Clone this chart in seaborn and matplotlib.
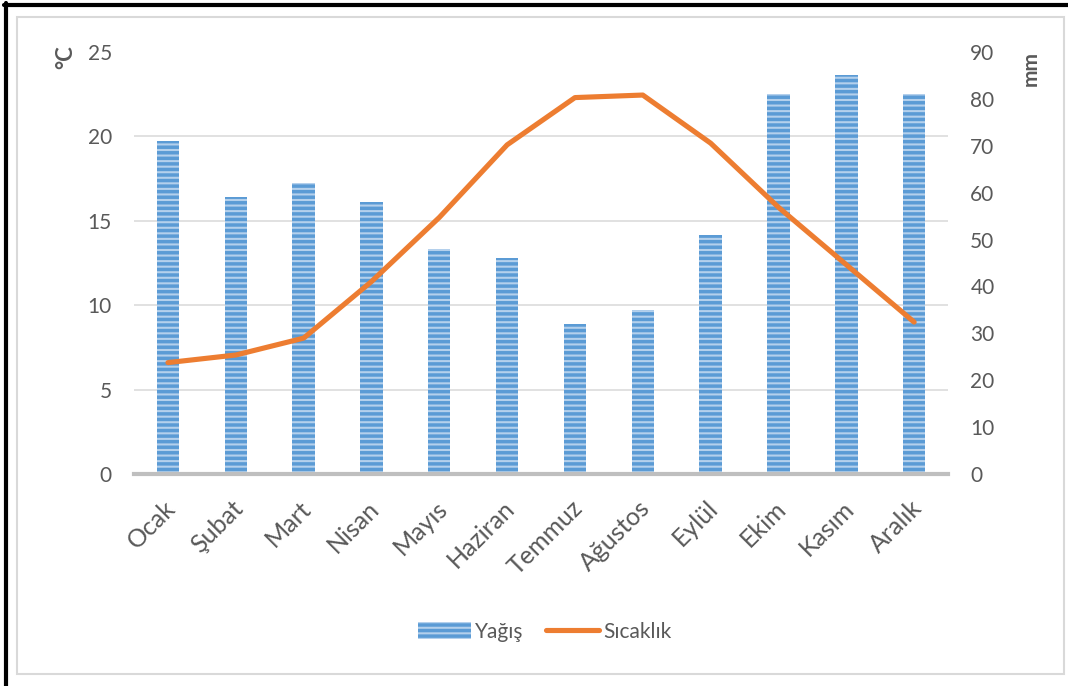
import numpy as np
import pandas as pd
import seaborn as sns
import matplotlib.pyplot as plt
import matplotlib.transforms as mtransforms
from matplotlib.ticker import MultipleLocator
from matplotlib.lines import Line2D
from matplotlib.patches import Rectangle

# Monthly climate values
months = ["Ocak", "Şubat", "Mart", "Nisan", "Mayıs", "Haziran",
          "Temmuz", "Ağustos", "Eylül", "Ekim", "Kasım", "Aralık"]
precip_mm = [71, 59, 62, 58, 48, 46, 32, 35, 51, 81, 85, 81]
temp_c = [6.6, 7.05, 8.05, 11.4, 15.2, 19.5, 22.3, 22.45, 19.6, 15.8, 12.4, 9.0]
temp_ticks = [0, 5, 10, 15, 20, 25]
precip_ticks = [0, 10, 20, 30, 40, 50, 60, 70, 80, 90]

TEXT = "#595959"
BAR_LIGHT = "#B4D0EC"
BAR_DARK = "#5B9BD5"
LINE = "#ED7D31"

sns.set_theme(style="white")
plt.rcParams["font.family"] = ["Lato", "DejaVu Sans"]
plt.rcParams["hatch.linewidth"] = 2.5

df = pd.DataFrame({"Ay": months, "Yağış": precip_mm, "Sıcaklık": temp_c})

fig = plt.figure(figsize=(10.68, 6.86), dpi=100)
ax = fig.add_axes([0.1255, 0.309, 0.7622, 0.6152])
ax2 = ax.twinx()
ax.set_zorder(ax2.get_zorder() + 1)
ax.patch.set_visible(False)

# precipitation bars on the right (mm) axis
sns.barplot(data=df, x="Ay", y="Yağış", ax=ax2, width=0.33, color=BAR_LIGHT,
            saturation=1, errorbar=None, edgecolor=BAR_DARK, linewidth=0,
            hatch="---", label="Yağış")

# temperature line on the left (°C) axis
sns.lineplot(data=df, x="Ay", y="Sıcaklık", ax=ax, color=LINE, linewidth=3.7,
             sort=False, solid_capstyle="round", solid_joinstyle="round",
             label="Sıcaklık")

for a in (ax, ax2):
    lg = a.get_legend()
    if lg is not None:
        lg.remove()
    a.set_xlabel("")
    a.set_ylabel("")
    for s in a.spines.values():
        s.set_visible(False)

ax.set_xlim(-0.5, len(months) - 0.5)
ax.set_ylim(temp_ticks[0], temp_ticks[-1])
ax.set_yticks(temp_ticks)
ax2.set_ylim(precip_ticks[0], precip_ticks[-1])
ax2.set_yticks(precip_ticks)

# horizontal gridlines follow the °C ticks
ax2.yaxis.set_minor_locator(MultipleLocator(18))
ax2.set_axisbelow(True)
ax2.grid(which="major", visible=False)
ax2.grid(which="minor", axis="y", color="#D9D9D9", linewidth=1.1)
ax.grid(False)

ax2.spines["bottom"].set_visible(True)
ax2.spines["bottom"].set_color("#BFBFBF")
ax2.spines["bottom"].set_linewidth(3.0)

ax.tick_params(axis="y", length=0, pad=16, labelsize=15, labelcolor=TEXT)
ax2.tick_params(axis="y", which="both", length=0, pad=16, labelsize=15,
                labelcolor=TEXT)
ax.tick_params(axis="x", length=0, pad=13, labelsize=18, labelcolor=TEXT)
ax.set_xticks(range(len(months)))
ax.set_xticklabels(months)
shift = mtransforms.ScaledTranslation(-3 / 72, -3 / 72, fig.dpi_scale_trans)
for lbl in ax.get_xticklabels():
    lbl.set_rotation(45)
    lbl.set_ha("right")
    lbl.set_rotation_mode("anchor")
    lbl.set_transform(lbl.get_transform() + shift)

# axis unit titles
fig.text(66 / 1068, 1 - 57 / 686, "°C", rotation=90, ha="center", va="center",
         fontsize=16, fontweight="bold", color=TEXT)
fig.text(1031 / 1068, 1 - 68 / 686, "mm", rotation=90, ha="center",
         va="center", fontsize=15, fontweight="bold", color=TEXT)

# legend below the chart
h1, l1 = ax2.get_legend_handles_labels()
h2, l2 = ax.get_legend_handles_labels()
fig.legend(h1 + h2, l1 + l2, loc="center", bbox_to_anchor=(0.51, 0.079),
           ncol=2, frameon=False, fontsize=15, labelcolor=TEXT,
           handlelength=2.55, handleheight=0.87, handletextpad=0.2,
           columnspacing=1.05)

# chart frame
fig.add_artist(Rectangle((17 / 1068, 1 - 674 / 686), (1064 - 17) / 1068,
                         (674 - 17) / 686, transform=fig.transFigure,
                         fill=False, edgecolor="#D9D9D9", linewidth=1.5))
fig.add_artist(Line2D([6 / 1068, 6 / 1068], [0, 1 - 3 / 686],
                      transform=fig.transFigure, color="black", linewidth=3))
fig.add_artist(Line2D([4 / 1068, 1], [1 - 5 / 686, 1 - 5 / 686],
                      transform=fig.transFigure, color="black", linewidth=3))

fig.savefig("out.png", dpi=100)
